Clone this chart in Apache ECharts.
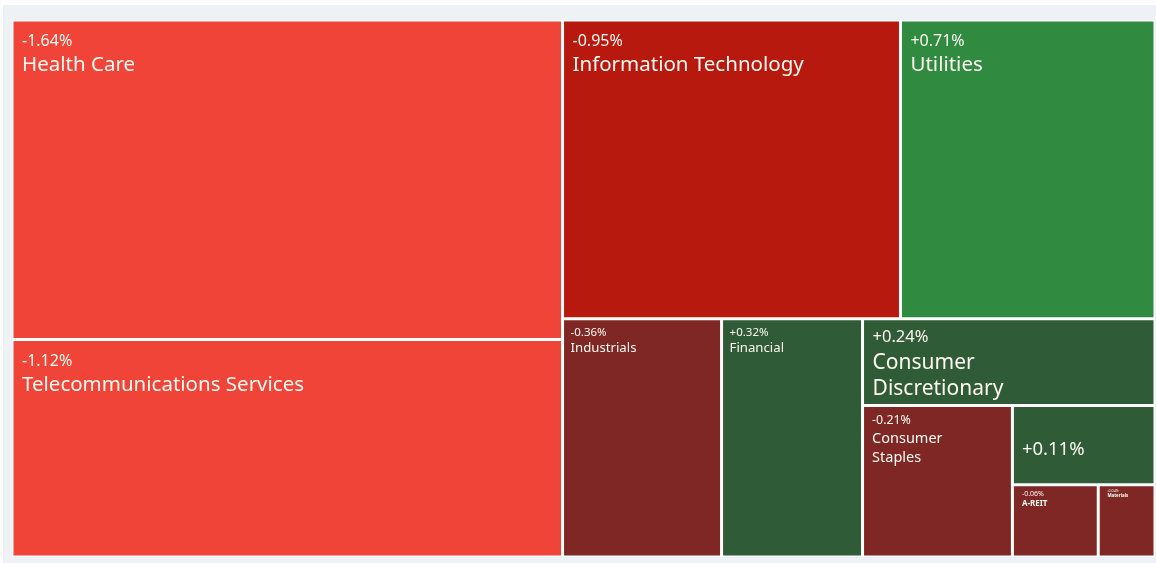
<!DOCTYPE html>
<html><head><meta charset="utf-8">
<script src="https://cdn.jsdelivr.net/npm/echarts@6/dist/echarts.min.js"></script>
<style>
html,body{margin:0;padding:0;background:#ffffff;width:1156px;height:563px;overflow:hidden}
#panel{position:absolute;left:3px;top:5px;width:1153px;height:558px;background:#eef1f5}
#main{position:absolute;left:0;top:0;width:1156px;height:563px}
</style></head><body>
<div id="panel"></div><div id="main"></div>
<script>
// ---- data ----
const sectors = ['Health Care', 'Telecommunications Services', 'Information Technology', 'Utilities',
  'Industrials', 'Financial', 'Consumer Discretionary', 'Consumer Staples', '', 'A-REIT', 'Materials'];
const weights = [175.9, 119.7, 100.9, 76.0, 37.9, 33.6, 25.4, 22.7, 11.3, 6.2, 4.1];
const changes = [-1.64, -1.12, -0.95, 0.71, -0.36, 0.32, 0.24, -0.21, 0.11, -0.06, -0.04];

// grouping of sector indices that steers the squarified layout (null = zero-size spacer)
const grouping = [[0, 1], [[2, 3], [4, [5, [6, [7, [8, null, [9, 10]]]]]]]];
const SPACER = 1e-6;

// ---- styles ----
const FONT = 'Noto Sans';
const TXT = '#fdfaf2';
function colorFor(c) {
  if (c <= -1) return '#f04438';
  if (c <= -0.5) return '#b8190f';
  if (c < 0) return '#7f2725';
  if (c >= 0.5) return '#308a40';
  return '#2f5b36';
}
const labelClass = ['big', 'big', 'big', 'big', 'mid', 'mid', 'cd', 'cs', 'x', 'tiny', 'micro'];
const labelStyles = {
  big:   { pad: [10, 0, 0, 8.5],  p: [16, 20],     n: [20.5, 28],  nw: 'normal', wrap: false },
  cd:    { pad: [4.5, 0, 0, 8.5], p: [16.5, 25.5], n: [21, 26],    nw: 'normal', wrap: true },
  mid:   { pad: [5.5, 0, 0, 6.5], p: [11.5, 14],   n: [13.2, 18],  nw: 'normal', wrap: false },
  cs:    { pad: [5, 0, 0, 8],     p: [12.4, 17],   n: [14.5, 19],  nw: 'normal', wrap: true },
  x:     { pad: [30.5, 0, 0, 8],  p: [18.5, 24],   n: [14, 18],    nw: 'normal', wrap: false },
  tiny:  { pad: [3.5, 0, 0, 8],   p: [7, 9],       n: [8, 9],      nw: 'bold',   wrap: false },
  micro: { pad: [2.4, 0, 0, 7.7], p: [3.6, 4.6],   n: [4.4, 4.6],  nw: 'bold',   wrap: false }
};

function pctText(c) { return (c > 0 ? '+' : '') + c.toFixed(2) + '%'; }

function leaf(i) {
  const st = labelStyles[labelClass[i]];
  let txt = '{p|' + pctText(changes[i]) + '}';
  if (sectors[i]) {
    const name = sectors[i];
    const k = name.indexOf(' ');
    if (st.wrap && k > 0) txt += '\n{n|' + name.slice(0, k) + '}\n{n|' + name.slice(k + 1) + '}';
    else txt += '\n{n|' + name + '}';
  }
  return {
    name: sectors[i],
    value: weights[i],
    itemStyle: { color: colorFor(changes[i]), borderWidth: 1.5, borderColor: '#ffffff', gapWidth: 0 },
    label: {
      show: true, position: 'insideTopLeft', distance: 0, padding: st.pad,
      color: TXT, fontFamily: FONT,
      formatter: function () { return txt; },
      rich: {
        p: { fontSize: st.p[0], lineHeight: st.p[1], color: TXT, fontFamily: FONT },
        n: { fontSize: st.n[0], lineHeight: st.n[1], color: TXT, fontFamily: FONT, fontWeight: st.nw }
      }
    }
  };
}
function spacer() {
  return { name: '', value: SPACER, itemStyle: { color: 'rgba(0,0,0,0)', borderWidth: 0 },
           label: { show: false }, emphasis: { disabled: true } };
}
function build(node) {
  if (node === null) return spacer();
  if (typeof node === 'number') return leaf(node);
  return { name: '', children: node.map(build) };
}
const treeData = grouping.map(build);

const chart = echarts.init(document.getElementById('main'), null, { renderer: 'canvas' });
chart.setOption({
  animation: false,
  textStyle: { fontFamily: FONT },
  tooltip: { show: false },
  series: [{
    type: 'treemap',
    left: 12, top: 20, width: 1143, height: 537,
    sort: false,
    squareRatio: 0.5 * (1 + Math.sqrt(5)),
    roam: false,
    nodeClick: false,
    breadcrumb: { show: false },
    itemStyle: { borderWidth: 0, gapWidth: 0, borderColor: '#ffffff' },
    upperLabel: { show: false },
    data: treeData
  }]
});
</script>
</body></html>
